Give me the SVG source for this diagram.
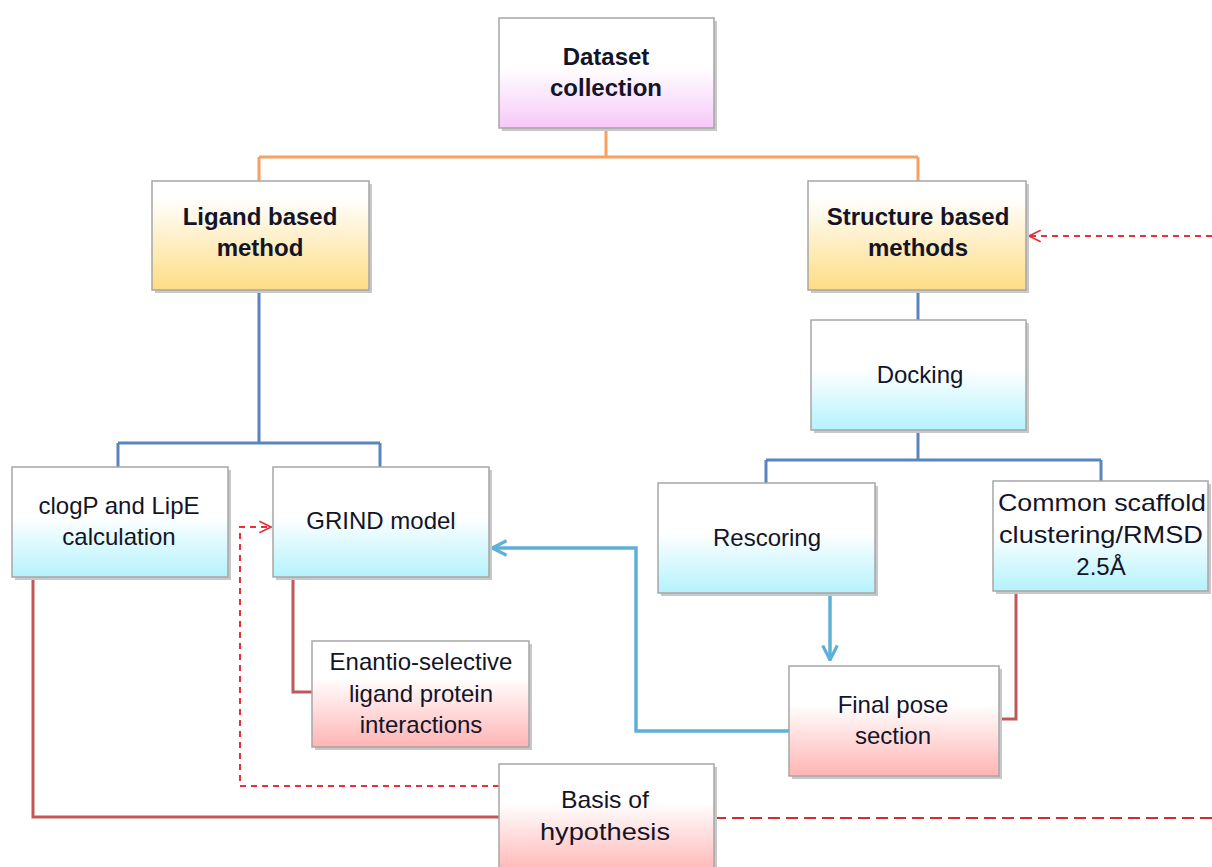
<svg xmlns="http://www.w3.org/2000/svg" width="1212" height="867" viewBox="0 0 1212 867">
<style>
.box{stroke:#a6a6a6;stroke-width:1.5}
.sh{fill:#c8c8c8}
.t{font-family:"Liberation Sans",Arial,sans-serif;font-size:24px;fill:#141428;text-anchor:middle}
.b{font-weight:bold}
.or{fill:none;stroke:#f7a060;stroke-width:3}
.bl{fill:none;stroke:#5b84bd;stroke-width:3}
.lb{fill:none;stroke:#5fb0d8;stroke-width:3.5}
.rd{fill:none;stroke:#c0585a;stroke-width:3}
.dash{fill:none;stroke:#e8303a;stroke-width:2;stroke-dasharray:6 5}
.dash2{fill:none;stroke:#d82830;stroke-width:2;stroke-dasharray:12 6}
</style>
<defs>
<linearGradient id="gPink" x1="0" y1="0" x2="0" y2="1"><stop offset="0.45" stop-color="#ffffff"/><stop offset="1" stop-color="#f6c8f8"/></linearGradient>
<linearGradient id="gYel" x1="0" y1="0" x2="0" y2="1"><stop offset="0.15" stop-color="#ffffff"/><stop offset="1" stop-color="#fddc84"/></linearGradient>
<linearGradient id="gCyan" x1="0" y1="0" x2="0" y2="1"><stop offset="0.45" stop-color="#ffffff"/><stop offset="1" stop-color="#b4f2fc"/></linearGradient>
<linearGradient id="gRose" x1="0" y1="0" x2="0" y2="1"><stop offset="0.35" stop-color="#ffffff"/><stop offset="1" stop-color="#ffb4b4"/></linearGradient>
<marker id="aBlue" viewBox="0 0 12 12" refX="11" refY="6" markerWidth="5" markerHeight="5" orient="auto" markerUnits="strokeWidth"><path d="M1,1 L11,6 L1,11" fill="none" stroke="#5fb0d8" stroke-width="2.2"/></marker>
<marker id="aRed" viewBox="0 0 12 12" refX="11" refY="6" markerWidth="7" markerHeight="7" orient="auto" markerUnits="strokeWidth"><path d="M1,1 L11,6 L1,11" fill="none" stroke="#e8303a" stroke-width="1.4"/></marker>
</defs>
<rect width="1212" height="867" fill="#ffffff"/>
<g id="connectors">
<path class="or" d="M606,128 V157 M259,157 H918 M259,157 V181 M918,157 V181"/>
<path class="bl" d="M259,290 V443 M118,443 H380 M118,443 V467 M380,443 V467"/>
<path class="bl" d="M918,290 V320 M918,430 V460 M766,460 H1101 M766,460 V483 M1101,460 V481"/>
<path class="lb" d="M830,593 V660" marker-end="url(#aBlue)"/>
<path class="lb" d="M789,731 H636 V548 H492" marker-end="url(#aBlue)"/>
<path class="rd" d="M1016,591 V719 H999"/>
<path class="rd" d="M293,577 V692 H312"/>
<path class="rd" d="M33,577 V817 H499"/>
<path class="dash" d="M499,786 H240 V527 H271" marker-end="url(#aRed)"/>
<path class="dash" d="M1212,236 H1029" marker-end="url(#aRed)"/>
<path class="dash2" d="M714,818 H1212"/>
</g>
<g id="dataset">
<rect class="sh" x="502" y="21" width="215" height="110"/>
<rect class="box" x="499" y="18" width="215" height="110" fill="url(#gPink)"/>
<text class="t b" x="606" y="65">Dataset</text>
<text class="t b" x="606" y="96">collection</text>
</g>
<g id="ligand">
<rect class="sh" x="155" y="184" width="217" height="109"/>
<rect class="box" x="152" y="181" width="217" height="109" fill="url(#gYel)"/>
<text class="t b" x="260" y="225">Ligand based</text>
<text class="t b" x="260" y="256">method</text>
</g>
<g id="structure">
<rect class="sh" x="811" y="184" width="218" height="109"/>
<rect class="box" x="808" y="181" width="218" height="109" fill="url(#gYel)"/>
<text class="t b" x="918" y="225">Structure based</text>
<text class="t b" x="918" y="256">methods</text>
</g>
<g id="docking">
<rect class="sh" x="814" y="323" width="215" height="110"/>
<rect class="box" x="811" y="320" width="215" height="110" fill="url(#gCyan)"/>
<text class="t" x="920" y="383">Docking</text>
</g>
<g id="clogp">
<rect class="sh" x="15" y="470" width="216" height="110"/>
<rect class="box" x="12" y="467" width="216" height="110" fill="url(#gCyan)"/>
<text class="t" x="119" y="514">clogP and LipE</text>
<text class="t" x="119" y="545">calculation</text>
</g>
<g id="grind">
<rect class="sh" x="276" y="470" width="216" height="110"/>
<rect class="box" x="273" y="467" width="216" height="110" fill="url(#gCyan)"/>
<text class="t" x="381" y="529">GRIND model</text>
</g>
<g id="rescoring">
<rect class="sh" x="661" y="486" width="217" height="110"/>
<rect class="box" x="658" y="483" width="217" height="110" fill="url(#gCyan)"/>
<text class="t" x="767" y="546">Rescoring</text>
</g>
<g id="scaffold">
<rect class="sh" x="996" y="484" width="215" height="110"/>
<rect class="box" x="993" y="481" width="215" height="110" fill="url(#gCyan)"/>
<text class="t" x="1102" y="511" textLength="208" lengthAdjust="spacingAndGlyphs">Common scaffold</text>
<text class="t" x="1101" y="543" textLength="204" lengthAdjust="spacingAndGlyphs">clustering/RMSD</text>
<text class="t" x="1101" y="575">2.5Å</text>
</g>
<g id="enantio">
<rect class="sh" x="315" y="644" width="217" height="106"/>
<rect class="box" x="312" y="641" width="217" height="106" fill="url(#gRose)"/>
<text class="t" x="421" y="670">Enantio-selective</text>
<text class="t" x="421" y="702">ligand protein</text>
<text class="t" x="421" y="733">interactions</text>
</g>
<g id="finalpose">
<rect class="sh" x="792" y="669" width="210" height="110"/>
<rect class="box" x="789" y="666" width="210" height="110" fill="url(#gRose)"/>
<text class="t" x="893" y="713">Final pose</text>
<text class="t" x="893" y="744">section</text>
</g>
<g id="basis">
<rect class="sh" x="502" y="767" width="215" height="103"/>
<rect class="box" x="499" y="764" width="215" height="110" fill="url(#gRose)"/>
<text class="t" x="605" y="808" textLength="88" lengthAdjust="spacingAndGlyphs">Basis of</text>
<text class="t" x="605" y="840" textLength="130" lengthAdjust="spacingAndGlyphs">hypothesis</text>
</g>
</svg>
